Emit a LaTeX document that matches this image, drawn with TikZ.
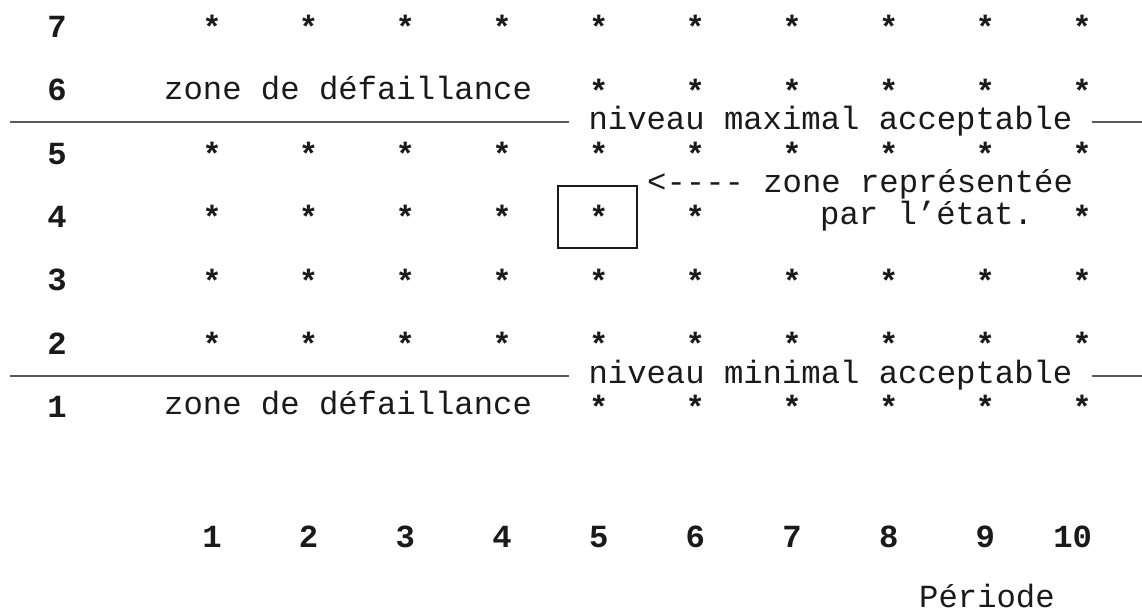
\documentclass[tikz,border=0pt]{standalone}
\usepackage{fontspec}
\newfontfamily\mono{Liberation Mono}
\definecolor{ink}{HTML}{1A1A1A}
\definecolor{rulegray}{HTML}{5A5A5A}
\begin{document}
\begin{tikzpicture}[x=1pt,y=-1pt,
  txt/.style={font=\mono\fontsize{32.25}{38}\selectfont, inner sep=0pt, anchor=base west, text=ink},
  star/.style={font=\mono\bfseries\fontsize{32.25}{38}\selectfont, inner sep=0pt, text=ink},
  lbl/.style={font=\mono\bfseries\fontsize{32.25}{38}\selectfont, inner sep=0pt, text=ink},
  level/.style={txt, inner xsep=19.35pt},
  rule/.style={draw=rulegray, line width=1.6pt},
  statebox/.style={draw=ink, line width=1.8pt, minimum width=79pt, minimum height=62pt, inner sep=0pt}
  ]
\useasboundingbox (0,0) rectangle (1142,613);
% row labels
\foreach \r in {1,...,7}
  \node[lbl] (r\r) at (57,{27+(7-\r)*63.33}) {\r};
% stars
\foreach \r in {7,5,3,2}
  \foreach \c in {1,...,10}
    \node[star] (s-\c-\r) at ({212+(\c-1)*96.67},{27+(7-\r)*63.33}) {*};
\foreach \r in {6,1}
  \foreach \c in {5,...,10}
    \node[star] (s-\c-\r) at ({212+(\c-1)*96.67},{27+(7-\r)*63.33}) {*};
\foreach \c in {1,...,6,10}
  \node[star] (s-\c-4) at ({212+(\c-1)*96.67},217) {*};
% failure zones
\node[txt] (z6) at (164,99) {zone de défaillance};
\node[txt] (z1) at (164,414) {zone de défaillance};
% maximal level
\coordinate (maxL) at (10,122);
\coordinate (maxR) at (1142,122);
\node[level] (nmax) at (569,129) {niveau maximal acceptable};
\draw[rule] (maxL) -- (nmax.west |- maxL);
\draw[rule] (nmax.east |- maxR) -- (maxR);
% minimal level
\coordinate (minL) at (10,376);
\coordinate (minR) at (1142,376);
\node[level] (nmin) at (569,383) {niveau minimal acceptable};
\draw[rule] (minL) -- (nmin.west |- minL);
\draw[rule] (nmin.east |- minR) -- (minR);
% state box
\node[statebox] (box) at (597.5,217) {};
\node[txt] (note1) at (647,192.5) {<---- zone représentée};
\node[txt] (note2) at (820,224) {par l’état.};
% periods
\foreach \c in {1,...,9}
  \node[lbl] (p\c) at ({212+(\c-1)*96.67},537) {\c};
\node[lbl] (p10) at (1072.7,537) {10};
\node[txt] (per) at (919,607) {Période};
\end{tikzpicture}
\end{document}
